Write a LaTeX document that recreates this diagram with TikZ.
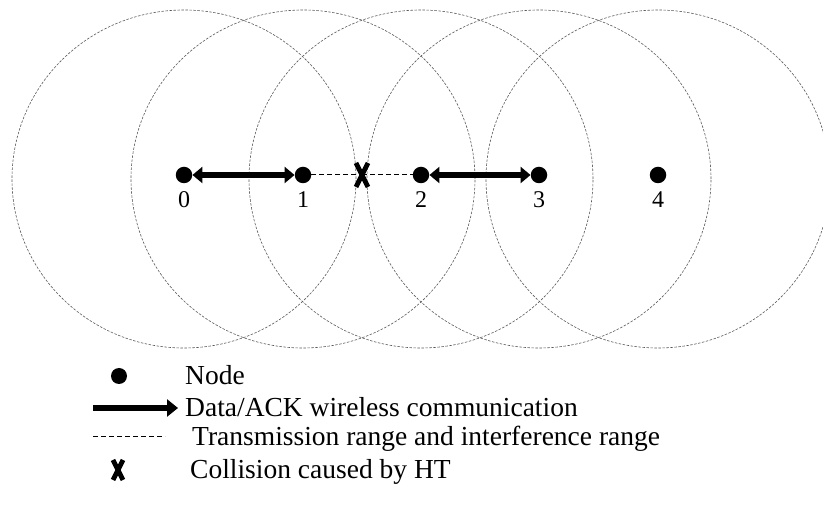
\documentclass[tikz,border=0pt]{standalone}
\usepackage{fontspec}
\setmainfont{Liberation Serif}
\usetikzlibrary{arrows.meta}
\usetikzlibrary{positioning}

\tikzset{
  dot/.style={circle, fill=black, inner sep=0pt, minimum size=16.5pt},
  ring/.style={draw=black!65, line width=0.6pt, dash pattern=on 2.5pt off 1.5pt},
  comm/.style={line width=5.5pt, {Triangle[length=10pt,width=16pt]}-{Triangle[length=10pt,width=16pt]}},
  commkey/.style={line width=6pt, -{Triangle[length=11pt,width=17pt]}},
  link/.style={line width=1pt, dash pattern=on 5pt off 3pt},
  xmark/.style={line width=4.8pt},
  keytext/.style={anchor=base west, inner sep=0pt, font=\fontsize{27.5}{30}\selectfont},
  numlabel/.style={font=\fontsize{24}{26}\selectfont}
}

\begin{document}
\begin{tikzpicture}[x=1pt, y=-1pt]
    \useasboundingbox (0,0) rectangle (823,518);
    \clip (0,0) rectangle (823,518);
    % nodes on the line
    \node[dot] (n0) at (184,175) {};
    \node[dot] (n1) at (303,175) {};
    \node[dot] (n2) at (421,175) {};
    \node[dot] (n3) at (539,175) {};
    \node[dot] (n4) at (658,175) {};
    \node[inner sep=0pt, minimum size=16pt] (hit) at (362,175) {};
    \foreach \i in {0,...,4}{
        \node[numlabel, below=5pt of n\i] (l\i) {\i};
        \draw[ring] ([yshift=-4pt]n\i.center) ellipse [x radius=172pt, y radius=169pt];
    }
    \draw[comm] (n0) -- (n1);
    \draw[comm] (n2) -- (n3);
    \draw[link] (n1) -- (hit.center);
    \draw[link] (hit.center) -- (n2);
    \draw[xmark] ([xshift=-6pt,yshift=12pt]hit.center) -- ([xshift=6pt,yshift=-12pt]hit.center);
    \draw[xmark] ([xshift=6pt,yshift=12pt]hit.center) -- ([xshift=-6pt,yshift=-12pt]hit.center);

    % legend
    \node[dot, minimum size=16pt] (kdot) at (119,376) {};
    \node[keytext] (t0) at (185,385) {Node};
    \coordinate (ka) at (93,408);
    \coordinate (kb) at (178,408);
    \draw[commkey] (ka) -- (kb);
    \node[keytext] (t1) at (185,417) {Data/ACK wireless communication};
    \coordinate (kc) at (93,437);
    \coordinate (kd) at (165,437);
    \draw[link] (kc) -- (kd);
    \node[keytext] (t2) at (192,446) {Transmission range and interference range};
    \node[inner sep=0pt, minimum size=16pt] (kx) at (118,470) {};
    \draw[xmark] ([xshift=-5pt,yshift=10pt]kx.center) -- ([xshift=5pt,yshift=-10pt]kx.center);
    \draw[xmark] ([xshift=5pt,yshift=10pt]kx.center) -- ([xshift=-5pt,yshift=-10pt]kx.center);
    \node[keytext] (t3) at (190,479) {Collision caused by HT};
\end{tikzpicture}
\end{document}
